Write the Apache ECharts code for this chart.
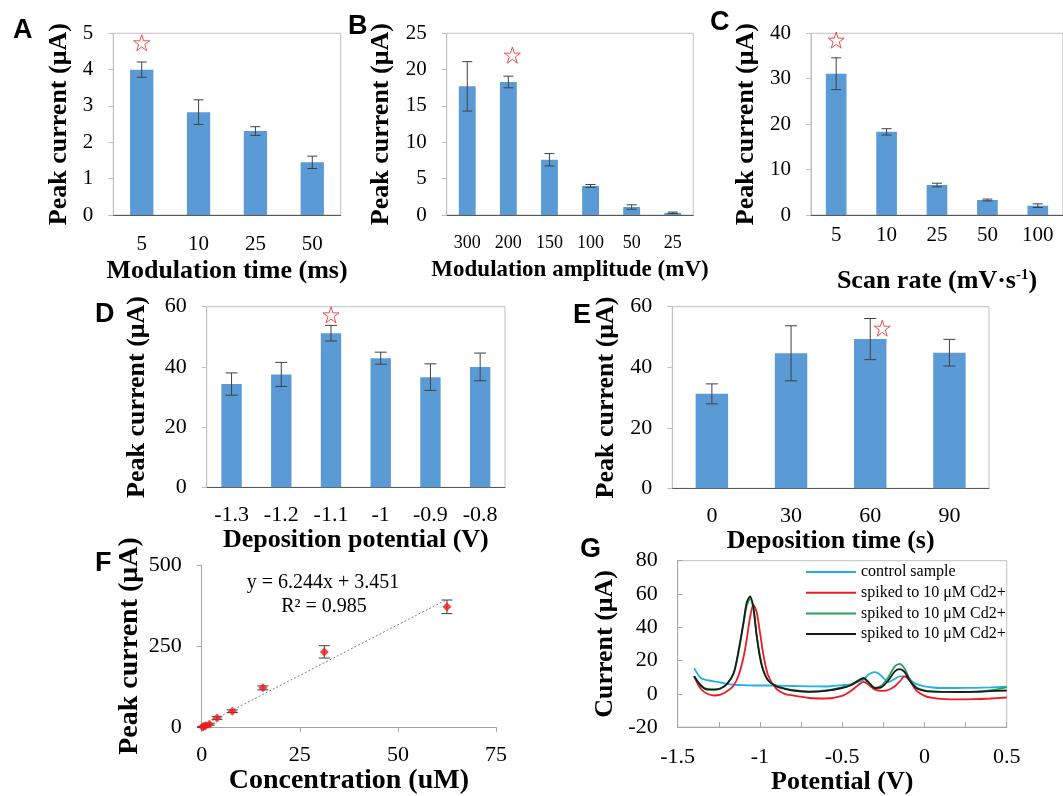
<!DOCTYPE html>
<html>
<head>
<meta charset="utf-8">
<script src="https://cdn.jsdelivr.net/npm/echarts@6/dist/echarts.min.js"></script>
<style>html,body{margin:0;padding:0;background:#fff}#c{width:1063px;height:796px}</style>
</head>
<body>
<div id="c"></div>
<script>
// ---------- DATA ----------
const catsA = ['5', '10', '25', '50'];
const valsA = [4.0, 2.83, 2.31, 1.45];
const errA = [0.21, 0.34, 0.12, 0.17];
const starA = ['5', 4.74];

const catsB = ['300', '200', '150', '100', '50', '25'];
const valsB = [17.7, 18.3, 7.6, 4.0, 1.1, 0.3];
const errB = [3.4, 0.8, 0.85, 0.2, 0.3, 0.1];
const starB = ['200', 22.0];

const catsC = ['5', '10', '25', '50', '100'];
const valsC = [31.1, 18.3, 6.6, 3.3, 2.05];
const errC = [3.5, 0.7, 0.4, 0.2, 0.4];
const starC = ['5', 38.5];

const catsD = ['-1.3', '-1.2', '-1.1', '-1', '-0.9', '-0.8'];
const valsD = [34.3, 37.5, 51.2, 42.9, 36.6, 40.0];
const errD = [3.7, 4.0, 2.6, 2.0, 4.4, 4.6];
const starD = ['-1.1', 57.3];

const catsE = ['0', '30', '60', '90'];
const valsE = [31.2, 44.6, 49.3, 44.8];
const errE = [3.3, 9.1, 6.8, 4.4];
const starE = ['60', 52.9];

const concF = [0.24, 0.49, 0.98, 1.95, 3.9, 7.8, 15.6, 31.25, 62.5];
const currF = [0.5, 1.5, 4, 9, 28, 49, 121, 232, 371];
const errF = [1, 1.5, 2, 3, 4, 4, 6, 19, 21];
const fitSlope = 6.244;
const fitIntercept = 3.451;
const fitRange = [0, 62.5];
const fitTexts = ['y = 6.244x + 3.451', 'R² = 0.985'];

const potentialG = [-1.40, -1.36, -1.32, -1.28, -1.24, -1.20, -1.16, -1.13, -1.10, -1.08, -1.06, -1.04, -1.02, -1.00, -0.98, -0.95, -0.90, -0.85, -0.80, -0.70, -0.60, -0.50, -0.45, -0.40, -0.37, -0.34, -0.30, -0.26, -0.22, -0.18, -0.15, -0.12, -0.09, -0.05, 0.00, 0.05, 0.10, 0.20, 0.30, 0.40, 0.50];
const controlG = [15.4, 9.5, 8.2, 7.5, 6.8, 6.0, 5.5, 5.3, 5.2, 5.1, 5.1, 5.0, 5.0, 5.0, 5.0, 5.0, 4.9, 4.8, 4.7, 4.5, 4.4, 5.2, 5.6, 7.3, 8.5, 11.6, 13.0, 10.6, 7.0, 9.0, 10.5, 10.5, 8.5, 6.0, 4.5, 3.8, 3.5, 3.5, 3.6, 3.9, 4.3];
const spike1G = [10.5, 3.0, 0.0, -1.0, -0.5, 1.5, 5.0, 11.0, 22.0, 33.0, 46.0, 53.5, 49.0, 37.0, 24.0, 11.0, 3.0, 0.0, -1.0, -2.5, -2.8, -1.2, 1.5, 5.5, 7.2, 5.5, 2.5, 1.8, 2.3, 4.5, 7.5, 10.5, 8.0, 2.0, -1.2, -2.5, -3.0, -3.3, -3.2, -2.8, -2.2];
const spike2G = [10.5, 5.2, 2.8, 2.6, 3.3, 6.0, 12.0, 25.0, 42.0, 53.0, 57.0, 51.0, 35.0, 23.0, 14.5, 8.2, 4.8, 3.2, 2.2, 1.4, 2.0, 3.8, 5.2, 8.2, 9.0, 6.5, 3.5, 5.0, 10.0, 16.5, 18.0, 15.0, 9.0, 4.0, 2.0, 1.5, 1.3, 1.2, 1.3, 2.0, 4.0];
const spike3G = [10.5, 5.0, 2.6, 2.5, 3.2, 6.0, 12.5, 26.0, 43.0, 55.0, 58.5, 52.0, 35.0, 22.0, 14.0, 8.0, 4.5, 3.0, 2.0, 1.2, 1.8, 3.5, 5.0, 8.0, 9.5, 7.0, 3.5, 4.0, 8.0, 13.5, 14.8, 13.0, 8.0, 3.5, 1.8, 1.3, 1.2, 1.1, 1.2, 1.6, 2.0];
const namesG = ['control sample', 'spiked to 10 μM Cd2+', 'spiked to 10 μM Cd2+', 'spiked to 10 μM Cd2+'];

// ---------- STYLE ----------
const SERIF = '"Liberation Serif","Times New Roman",serif';
const SANS = '"Liberation Sans",Arial,sans-serif';
const BLUE = '#5b9bd5';
const BORDER = '#bfbfbf';
const STAR = 'path://M50,4 L61,38 L97,38 L68,59 L79,94 L50,73 L21,94 L32,59 L3,38 L39,38 Z';

const grids = [], xAxes = [], yAxes = [], series = [], graphics = [];

function errRender(cap, color) {
  return function (params, api) {
    const x = api.value(0), v = api.value(1), e = api.value(2);
    const hi = api.coord([x, v + e]), lo = api.coord([x, v - e]);
    const style = { stroke: color, lineWidth: 1 };
    return {
      type: 'group', children: [
        { type: 'line', shape: { x1: hi[0], y1: hi[1], x2: lo[0], y2: lo[1] }, style },
        { type: 'line', shape: { x1: hi[0] - cap / 2, y1: hi[1], x2: hi[0] + cap / 2, y2: hi[1] }, style },
        { type: 'line', shape: { x1: lo[0] - cap / 2, y1: lo[1], x2: lo[0] + cap / 2, y2: lo[1] }, style }
      ]
    };
  };
}

function nameStyle(size) {
  return { fontFamily: SERIF, fontWeight: 'bold', fontSize: size, color: '#000' };
}

function barPanel(cfg) {
  const i = grids.length;
  grids.push({ left: cfg.box[0], top: cfg.box[1], width: cfg.box[2], height: cfg.box[3], show: true, borderColor: BORDER, borderWidth: 1 });
  xAxes.push({
    type: 'category', gridIndex: i, data: cfg.cats,
    axisLine: { onZero: false, lineStyle: { color: '#595959', width: 1 } },
    axisTick: { show: false },
    axisLabel: { color: '#000', fontFamily: SERIF, fontSize: cfg.xFont, margin: cfg.xMargin, interval: 0 },
    name: cfg.xName, nameLocation: 'middle', nameGap: cfg.xNameGap,
    nameTextStyle: Object.assign(nameStyle(cfg.xNameSize), cfg.xNameRich ? { rich: cfg.xNameRich } : {})
  });
  yAxes.push({
    type: 'value', gridIndex: i, min: 0, max: cfg.max, interval: cfg.interval,
    axisLine: { show: true, onZero: false, lineStyle: { color: BORDER } },
    axisTick: { show: true, length: 5, lineStyle: { color: BORDER } },
    splitLine: { show: false },
    axisLabel: { color: '#000', fontFamily: SERIF, fontSize: cfg.yFont, margin: 20 },
    name: 'Peak current (μA)', nameLocation: 'middle', nameGap: cfg.yNameGap,
    nameTextStyle: nameStyle(26)
  });
  series.push({ type: 'bar', xAxisIndex: i, yAxisIndex: i, data: cfg.vals, barWidth: '41%', itemStyle: { color: BLUE }, silent: true, animation: false });
  series.push({
    type: 'custom', xAxisIndex: i, yAxisIndex: i, encode: { x: 0, y: 1 },
    data: cfg.vals.map((v, k) => [k, v, cfg.errs[k]]),
    renderItem: errRender(cfg.cap, '#404040'), z: 5, silent: true, animation: false
  });
  series.push({
    type: 'scatter', xAxisIndex: i, yAxisIndex: i,
    data: [[cfg.cats.indexOf(cfg.star[0]), cfg.star[1]]],
    symbol: STAR, symbolSize: 16, symbolOffset: cfg.starOffset || [0, 0],
    itemStyle: { color: '#ffffff', borderColor: '#e8262b', borderWidth: 1 },
    z: 6, silent: true, animation: false
  });
}

barPanel({ box: [113.3, 33.3, 227.4, 181.7], cats: catsA, vals: valsA, errs: errA, star: starA, max: 5, interval: 1,
  xFont: 21, yFont: 21, xMargin: 19, xName: 'Modulation time (ms)', xNameSize: 26, xNameGap: 43, yNameGap: 41, cap: 10 });
barPanel({ box: [446.7, 33.3, 246.6, 181.7], cats: catsB, vals: valsB, errs: errB, star: starB, max: 25, interval: 5,
  xFont: 18, yFont: 21, xMargin: 19, xName: 'Modulation amplitude (mV)', xNameSize: 23, xNameGap: 44, yNameGap: 52, cap: 10, starOffset: [4, 0] });
barPanel({ box: [811.0, 33.3, 258.0, 181.7], cats: catsC, vals: valsC, errs: errC, star: starC, max: 40, interval: 10,
  xFont: 21, yFont: 21, xMargin: 10, xName: 'Scan rate (mV·s{sup|-1})', xNameSize: 26, xNameGap: 53, yNameGap: 52, cap: 10,
  xNameRich: { sup: { fontFamily: SERIF, fontWeight: 'bold', fontSize: 15, color: '#000', verticalAlign: 'top' } } });
barPanel({ box: [206.7, 306.7, 298.3, 180.6], cats: catsD, vals: valsD, errs: errD, star: starD, max: 60, interval: 20,
  xFont: 22, yFont: 22, xMargin: 17, xName: 'Deposition potential (V)', xNameSize: 26, xNameGap: 37, yNameGap: 56, cap: 12 });
barPanel({ box: [672.3, 306.7, 316.7, 181.6], cats: catsE, vals: valsE, errs: errE, star: starE, max: 60, interval: 20,
  xFont: 22, yFont: 22, xMargin: 17, xName: 'Deposition time (s)', xNameSize: 26, xNameGap: 37, yNameGap: 53, cap: 12, starOffset: [12, 0] });

// ---------- Panel F ----------
(function () {
  const i = grids.length;
  grids.push({ left: 201.7, top: 565, width: 294.3, height: 172.3, show: false });
  xAxes.push({
    type: 'value', gridIndex: i, min: 0, max: 75, interval: 25,
    axisLine: { show: true, onZero: false, lineStyle: { color: '#a6a6a6' } },
    axisTick: { show: true, length: 5, lineStyle: { color: '#a6a6a6' } },
    splitLine: { show: false },
    axisLabel: { color: '#000', fontFamily: SERIF, fontSize: 22, margin: 17 },
    name: 'Concentration (uM)', nameLocation: 'middle', nameGap: 35, nameTextStyle: nameStyle(28)
  });
  yAxes.push({
    type: 'value', gridIndex: i, min: 0, max: 500, interval: 250,
    axisLine: { show: true, onZero: false, lineStyle: { color: '#a6a6a6' } },
    axisTick: { show: true, length: 5, lineStyle: { color: '#a6a6a6' } },
    splitLine: { show: false },
    axisLabel: { color: '#000', fontFamily: SERIF, fontSize: 22, margin: 20 },
    name: 'Peak current (μA)', nameLocation: 'middle', nameGap: 58, nameTextStyle: nameStyle(28)
  });
  series.push({
    type: 'line', xAxisIndex: i, yAxisIndex: i, symbol: 'none', silent: true, animation: false,
    data: fitRange.map(x => [x, fitSlope * x + fitIntercept]),
    lineStyle: { color: '#7f7f7f', width: 1, type: [2, 2] }
  });
  series.push({
    type: 'custom', xAxisIndex: i, yAxisIndex: i, encode: { x: 0, y: 1 },
    data: concF.map((c, k) => [c, currF[k], errF[k]]),
    renderItem: errRender(11, '#404040'), z: 4, silent: true, animation: false
  });
  series.push({
    type: 'scatter', xAxisIndex: i, yAxisIndex: i, symbol: 'diamond', symbolSize: 9,
    data: concF.map((c, k) => [c, currF[k]]),
    itemStyle: { color: '#ee1c1c' }, z: 5, silent: true, animation: false
  });
  graphics.push({ type: 'text', x: 323, y: 583, style: { text: fitTexts[0], font: '20px ' + SERIF, fill: '#000', textAlign: 'center', textVerticalAlign: 'middle' } });
  graphics.push({ type: 'text', x: 324, y: 607, style: { text: fitTexts[1], font: '20px ' + SERIF, fill: '#000', textAlign: 'center', textVerticalAlign: 'middle' } });
})();

// ---------- Panel G ----------
const colorsG = ['#22b0e6', '#ec1c24', '#1fa55a', '#1a1a1a'];
const keysG = ['g0', 'g1', 'g2', 'g3'];
(function () {
  const i = grids.length;
  grids.push({ left: 677.7, top: 560.7, width: 329, height: 174.3, show: true, borderColor: BORDER, borderWidth: 1 });
  xAxes.push({
    type: 'value', gridIndex: i, min: -1.5, max: 0.5, interval: 0.5,
    axisLine: { show: true, onZero: false, lineStyle: { color: '#a6a6a6' } },
    axisTick: { show: true, inside: true, length: 5, lineStyle: { color: '#a6a6a6' } },
    minorTick: { show: true, splitNumber: 2, length: 5, lineStyle: { color: '#a6a6a6' } },
    splitLine: { show: false },
    axisLabel: { color: '#000', fontFamily: SERIF, fontSize: 22, margin: 19 },
    name: 'Potential (V)', nameLocation: 'middle', nameGap: 39, nameTextStyle: nameStyle(26)
  });
  yAxes.push({
    type: 'value', gridIndex: i, min: -20, max: 80, interval: 20,
    axisLine: { show: true, onZero: false, lineStyle: { color: '#a6a6a6' } },
    axisTick: { show: true, inside: true, length: 5, lineStyle: { color: '#a6a6a6' } },
    splitLine: { show: false },
    axisLabel: { color: '#000', fontFamily: SERIF, fontSize: 22, margin: 20 },
    name: 'Current (μA)', nameLocation: 'middle', nameGap: 59, nameTextStyle: nameStyle(26)
  });
  [controlG, spike1G, spike2G, spike3G].forEach((ys, k) => {
    series.push({
      type: 'line', name: keysG[k], xAxisIndex: i, yAxisIndex: i, symbol: 'none', showSymbol: false,
      smooth: 0.3, animation: false, silent: true,
      data: potentialG.map((x, j) => [x, ys[j]]),
      lineStyle: { color: colorsG[k], width: 1.8 }, itemStyle: { color: colorsG[k] }
    });
  });
})();

// ---------- Panel letters ----------
const letters = [['A', 13, 30.5], ['B', 348, 26.5], ['C', 710, 22.5], ['D', 95, 315], ['E', 573, 316], ['F', 95, 564], ['G', 580, 550]];
letters.forEach(l => graphics.push({ type: 'text', x: l[1], y: l[2], style: { text: l[0], font: 'bold 27px ' + SANS, fill: '#000', textAlign: 'left', textVerticalAlign: 'middle' } }));

const chart = echarts.init(document.getElementById('c'));
chart.setOption({
  animation: false,
  backgroundColor: '#fff',
  grid: grids, xAxis: xAxes, yAxis: yAxes, series: series,
  graphic: graphics,
  legend: {
    orient: 'vertical', left: 806, top: 564, padding: 0,
    icon: 'rect', itemWidth: 50, itemHeight: 2, itemGap: 4.7,
    data: keysG,
    formatter: n => namesG[keysG.indexOf(n)],
    textStyle: { fontFamily: SERIF, fontSize: 16, color: '#000' },
    selectedMode: false
  }
});
</script>
</body>
</html>
